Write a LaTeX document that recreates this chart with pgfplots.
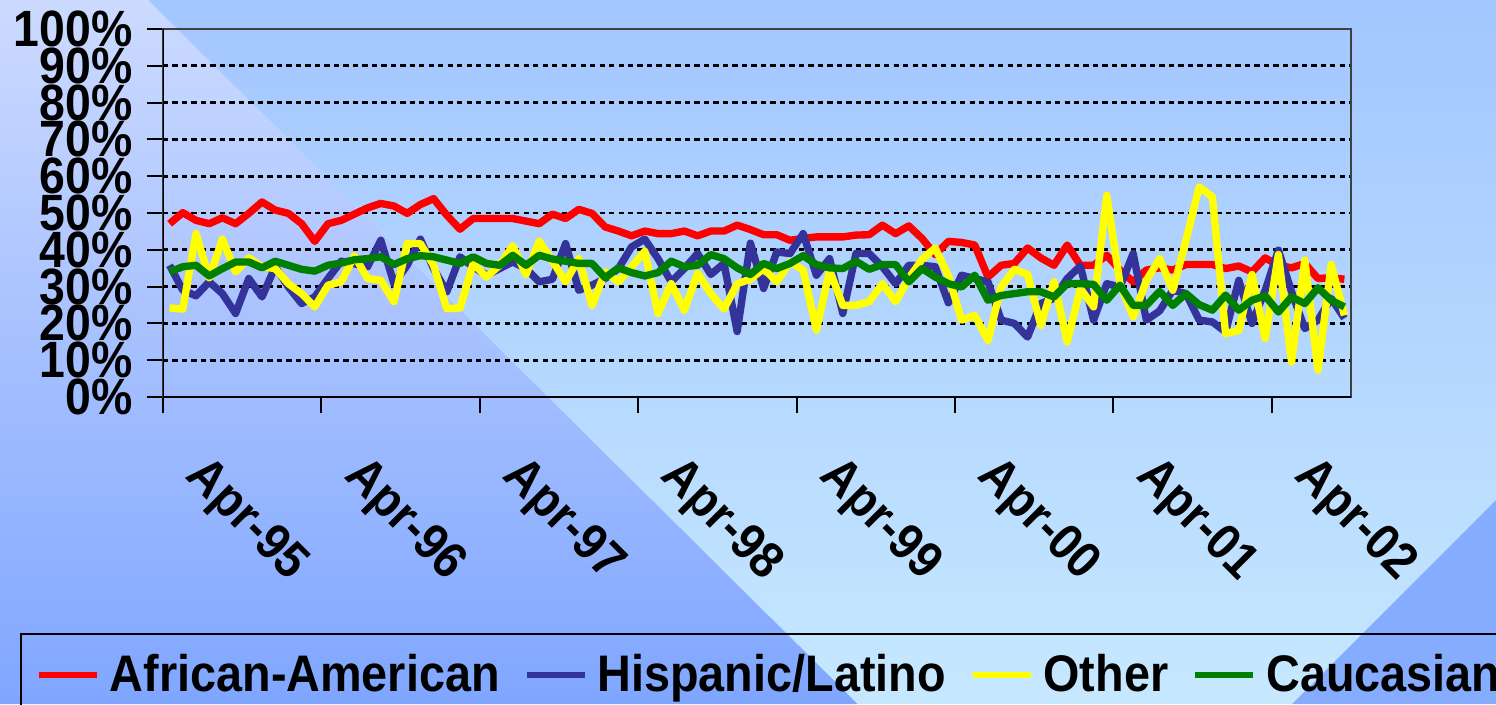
\documentclass[border=0pt]{standalone}
\usepackage{fontspec}
\setmainfont{Liberation Sans}
\usepackage{graphicx}
\usepackage{pgfplots}
\usepackage{pgfplotstable}
\pgfplotsset{compat=1.18}

\definecolor{aacol}{HTML}{FF0000}
\definecolor{hlcol}{HTML}{333399}
\definecolor{otcol}{HTML}{FFFF00}
\definecolor{cacol}{HTML}{008000}
\definecolor{bgLtop}{HTML}{CCDAFF}
\definecolor{bgLbot}{HTML}{7FA6FF}
\definecolor{bgRtop}{HTML}{A2C6FF}
\definecolor{bgRbot}{HTML}{C6E8FF}
\definecolor{bgCorner}{HTML}{86ACFF}

% labels in the reference are a little taller than the font
\newcommand{\tallt}[1]{\scalebox{1}[1.1]{#1}}

% month index from Apr-95; share of each group in %
\pgfplotstableread{
i aa hl ot ca
0 47.1 35.8 24.2 34.0
1 50.1 29.0 23.9 35.4
2 48.0 27.5 44.4 35.8
3 47.1 31.3 32.4 32.9
4 48.7 28.1 42.9 34.9
5 47.1 22.7 34.0 36.7
6 49.9 32.2 37.8 36.7
7 53.0 27.2 35.4 35.1
8 50.8 35.4 34.9 36.9
9 49.9 29.9 30.8 35.8
10 47.1 25.4 28.1 34.7
11 42.3 27.2 24.5 34.2
12 47.1 32.2 30.4 35.8
13 48.0 36.9 31.3 36.4
14 49.7 36.2 38.4 37.3
15 51.4 35.4 32.2 37.6
16 52.6 42.6 31.7 38.1
17 51.9 30.8 25.9 36.0
18 49.9 35.8 41.7 37.6
19 52.3 42.9 41.7 38.4
20 53.9 34.9 35.8 38.1
21 49.4 28.6 24.0 37.2
22 45.6 38.1 24.2 36.3
23 48.5 35.4 36.3 38.1
24 48.5 33.1 32.6 36.3
25 48.5 34.9 35.8 35.8
26 48.5 36.7 41.1 38.5
27 47.8 34.9 33.3 35.8
28 47.1 31.3 42.3 38.5
29 49.7 32.0 37.0 37.5
30 48.5 41.7 31.3 36.9
31 51.0 29.0 37.6 36.3
32 49.9 30.4 24.9 36.3
33 46.2 32.2 34.0 32.4
34 45.1 34.9 31.3 35.1
35 43.8 40.8 35.4 33.8
36 45.1 42.9 39.6 32.9
37 44.4 37.6 22.7 33.8
38 44.4 31.3 30.8 36.9
39 45.1 34.9 23.6 35.4
40 43.8 39.0 33.6 35.8
41 45.1 33.3 28.1 38.7
42 45.1 36.3 23.9 37.6
43 46.7 17.8 30.8 35.1
44 45.5 41.8 32.0 33.3
45 44.1 29.5 34.9 36.3
46 44.1 39.4 31.3 34.9
47 42.6 39.0 36.7 36.3
48 43.1 44.4 34.5 38.4
49 43.5 33.1 18.2 36.0
50 43.5 37.6 34.5 35.1
51 43.5 22.7 24.9 34.9
52 44.0 39.0 24.9 36.9
53 44.1 39.0 25.9 34.7
54 46.7 35.4 30.8 36.0
55 44.4 30.8 25.9 36.0
56 46.5 35.8 32.2 31.3
57 43.1 35.8 37.4 34.9
58 38.7 35.4 40.5 32.6
59 42.3 25.6 33.0 30.8
60 42.0 33.1 20.9 29.9
61 41.3 32.2 22.2 33.1
62 32.6 31.3 15.4 26.3
63 35.8 20.9 29.9 27.6
64 36.3 20.0 34.7 28.1
65 40.5 16.3 33.3 28.6
66 37.8 25.4 19.5 28.6
67 35.8 26.8 31.3 27.2
68 41.3 32.2 15.0 30.8
69 35.8 35.6 29.5 30.8
70 35.8 20.9 24.5 30.6
71 38.5 30.8 54.8 26.3
72 34.5 29.9 30.8 30.4
73 31.3 39.0 21.8 24.9
74 34.5 20.9 31.7 24.9
75 35.1 23.4 37.6 28.7
76 34.5 29.0 29.0 24.9
77 36.0 28.1 42.6 28.1
78 36.0 20.9 57.1 25.1
79 36.0 20.4 54.4 23.6
80 34.9 17.7 17.2 27.7
81 35.6 31.7 18.1 23.6
82 34.0 20.0 33.3 26.3
83 37.8 29.0 15.9 27.5
84 35.8 39.9 38.7 23.1
85 35.1 28.6 9.5 27.2
86 36.3 18.6 37.2 25.4
87 32.2 20.9 7.3 29.7
88 32.4 26.8 36.0 26.3
89 32.0 21.4 22.2 24.5
}\ratedata

\begin{document}
\begin{tikzpicture}
% slide background, 1 px = 0.01 cm
\useasboundingbox (0,0) rectangle (14.96,-7.04);
\clip (0,0) rectangle (14.96,-7.04);
\shade[top color=bgLtop, bottom color=bgLbot] (0,0) -- (1.48,0) -- (8.58,-7.04) -- (0,-7.04) -- cycle;
\shade[top color=bgRtop, bottom color=bgRbot] (1.48,0) -- (14.96,0) -- (14.96,-5.0) -- (12.92,-7.04) -- (8.58,-7.04) -- cycle;
\fill[bgCorner] (14.96,-5.0) -- (14.96,-7.04) -- (12.92,-7.04) -- cycle;

\begin{axis}[
  at={(1.63cm,-3.97cm)}, anchor=south west,
  scale only axis, width=11.88cm, height=3.68cm,
  xmin=-0.5, xmax=89.5, ymin=0, ymax=100,
  xtick={-0.5,11.5,...,83.5},
  xticklabels={\tallt{Apr-95},\tallt{Apr-96},\tallt{Apr-97},\tallt{Apr-98},\tallt{Apr-99},\tallt{Apr-00},\tallt{Apr-01},\tallt{Apr-02}},
  ytick={0,10,...,100},
  yticklabels={\tallt{0\%},\tallt{10\%},\tallt{20\%},\tallt{30\%},\tallt{40\%},\tallt{50\%},\tallt{60\%},\tallt{70\%},\tallt{80\%},\tallt{90\%},\tallt{100\%}},
  xtick pos=bottom, ytick pos=left,
  tick align=outside, major tick length=0.16cm,
  tick style={black, line width=0.6pt},
  axis line style={draw=black!75, line width=0.4pt},
  ymajorgrids,
  major grid style={black, line width=0.8pt, dash pattern=on 1.5pt off 1.2pt},
  yticklabel style={font=\fontsize{13.2}{14}\selectfont\bfseries, xshift=-0.02cm},
  xticklabel style={font=\fontsize{13.2}{14}\selectfont\bfseries, xshift=0.47cm, yshift=-0.22cm, rotate=-45, anchor=north west},
  every axis plot/.append style={line width=2.1pt, line join=round},
  legend columns=4,
  legend image code/.code={\draw[#1, line width=1.7pt] (0cm,0cm) -- (0.58cm,0cm);},
  legend style={at={(-0.1204,-0.6413)}, anchor=north west,
    draw=black, line width=0.6pt, fill=none,
    font=\fontsize{13.3}{14}\selectfont\bfseries,
    inner xsep=0.15cm, inner ysep=0.2cm,
    nodes={inner sep=0pt},
    /tikz/every odd column/.append style={column sep=0.1cm},
    /tikz/every even column/.append style={column sep=0.24cm}},
]
\addplot[aacol] table[x=i, y=aa] {\ratedata};
\addplot[hlcol] table[x=i, y=hl] {\ratedata};
\addplot[otcol] table[x=i, y=ot] {\ratedata};
\addplot[cacol] table[x=i, y=ca] {\ratedata};
\legend{\tallt{African-American},\tallt{Hispanic/Latino},\tallt{Other},\tallt{Caucasian}}
\draw[black, line width=0.8pt] (rel axis cs:0,1) -- (rel axis cs:0,0) -- (rel axis cs:1,0);
\end{axis}
\end{tikzpicture}
\end{document}
